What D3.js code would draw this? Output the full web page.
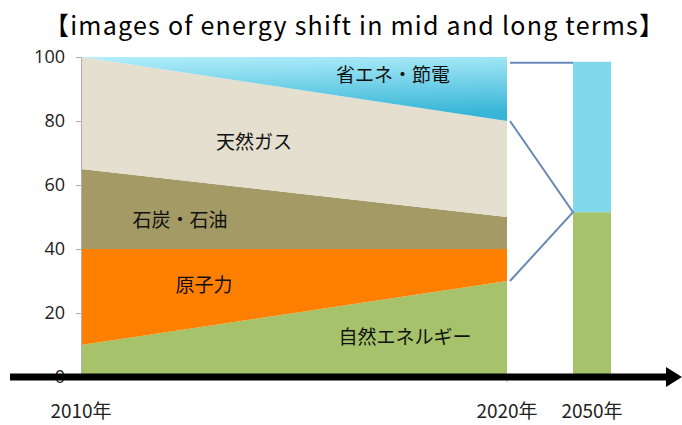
<!DOCTYPE html>
<html>
<head>
<meta charset="utf-8">
<script src="https://cdn.jsdelivr.net/npm/d3@7"></script>
<style>
  body { margin: 0; background: #fff; }
  svg { display: block; }
</style>
</head>
<body>
<svg id="chart" width="682" height="425"></svg>
<script>
// data
const years = [2010, 2020];
const keys = ["renew", "nuclear", "coal", "gas", "saving"];
const renew = [10, 30];
const nuclear = [30, 10];
const coal = [25, 10];
const gas = [35, 30];
const saving = [0, 20];
const labels = ["自然エネルギー", "原子力", "石炭・石油", "天然ガス", "省エネ・節電"];
const yTicks = [0, 20, 40, 60, 80, 100];
// 2050 bar
const bar2050 = [51.5, 47];
const yearLabels = ["2010年", "2020年", "2050年"];

const colors = {
    renew: "#a6c36b", nuclear: "#ff7f00", coal: "#a39a66",
    gas: "#e4dfcf", saving: "url(#blueGrad)"
};

const svg = d3.select("#chart");
const font = "'Noto Sans CJK JP', sans-serif";

const x = d3.scaleLinear().domain([2010, 2020]).range([81, 507]);
const y = d3.scaleLinear().domain([0, 100]).range([377, 57]);

// gradient for the saving layer
const defs = svg.append("defs");
const grad = defs.append("linearGradient").attr("id", "blueGrad")
    .attr("x1", 0).attr("y1", 0).attr("x2", 0.15).attr("y2", 1);
grad.append("stop").attr("offset", "0%").attr("stop-color", "#b3eefb");
grad.append("stop").attr("offset", "100%").attr("stop-color", "#36b5d6");

// title
svg.append("text")
    .attr("x", 44).attr("y", 35)
    .attr("textLength", 620).attr("lengthAdjust", "spacing")
    .style("font-family", font).style("font-size", "25px")
    .text("【images of energy shift in mid and long terms】");

// stacked areas
const table = years.map((yr, i) => ({
    year: yr, renew: renew[i], nuclear: nuclear[i], coal: coal[i], gas: gas[i], saving: saving[i]
}));
const series = d3.stack().keys(keys)(table);

const area = d3.area()
    .x(d => x(d.data.year))
    .y0(d => y(d[0]))
    .y1(d => y(d[1]));

svg.append("g").selectAll("path")
    .data(series)
    .join("path")
    .attr("d", area)
    .attr("fill", d => colors[d.key]);

// y axis
const yAxis = svg.append("g")
    .attr("transform", "translate(81,0)")
    .call(d3.axisLeft(y).tickValues(yTicks).tickSize(5).tickPadding(11));
yAxis.select(".domain").attr("stroke", "#b0b0b0");
yAxis.selectAll(".tick line").attr("stroke", "#b0b0b0");
yAxis.selectAll("text")
    .style("font-family", "'Open Sans', sans-serif")
    .style("font-size", "18px")
    .attr("fill", "#222");

// small tick at 2020
svg.append("line")
    .attr("x1", x(2020)).attr("x2", x(2020))
    .attr("y1", y(0)).attr("y2", y(0) + 5)
    .attr("stroke", "#b0b0b0");

// 2050 bar
const barX = 573, barW = 38;
let acc = 0;
const barColors = ["#a6c36b", "#7fd9ea"];
bar2050.forEach((v, i) => {
    svg.append("rect")
        .attr("x", barX).attr("width", barW)
        .attr("y", y(acc + v)).attr("height", y(acc) - y(acc + v))
        .attr("fill", barColors[i]);
    acc += v;
});

// connector lines
const joinY = y(bar2050[0]);
const lineCol = "#6a89b3";
const conn = svg.append("g").attr("stroke", lineCol).attr("stroke-width", 2).attr("fill", "none");
conn.append("line")
    .attr("x1", 510).attr("x2", barX).attr("y1", y(acc) + 1).attr("y2", y(acc) + 1);
conn.append("path")
    .attr("d", `M510,${y(80)}L${barX},${joinY}L510,${y(30)}`);

// black axis arrow
svg.append("line")
    .attr("x1", 10).attr("x2", 668)
    .attr("y1", y(0)).attr("y2", y(0))
    .attr("stroke", "#000").attr("stroke-width", 7);
svg.append("path")
    .attr("d", `M666,${y(0) - 10}L682,${y(0)}L666,${y(0) + 10}Z`)
    .attr("fill", "#000");

// layer labels
const labelPos = [
    { x: 405, y: 337 }, { x: 204, y: 285 }, { x: 180, y: 220 },
    { x: 254, y: 142 }, { x: 393, y: 75 }
];
svg.append("g").selectAll("text")
    .data(labels)
    .join("text")
    .attr("x", (d, i) => labelPos[i].x)
    .attr("y", (d, i) => labelPos[i].y)
    .attr("dy", "0.35em")
    .attr("text-anchor", "middle")
    .style("font-family", font).style("font-size", "19px")
    .attr("fill", "#111")
    .text(d => d);

// year labels
const yearX = [x(2010), x(2020), barX + barW / 2];
svg.append("g").selectAll("text")
    .data(yearLabels)
    .join("text")
    .attr("x", (d, i) => yearX[i])
    .attr("y", 418)
    .attr("text-anchor", "middle")
    .style("font-family", font).style("font-size", "19px")
    .attr("fill", "#222")
    .text(d => d);
</script>
</body>
</html>
